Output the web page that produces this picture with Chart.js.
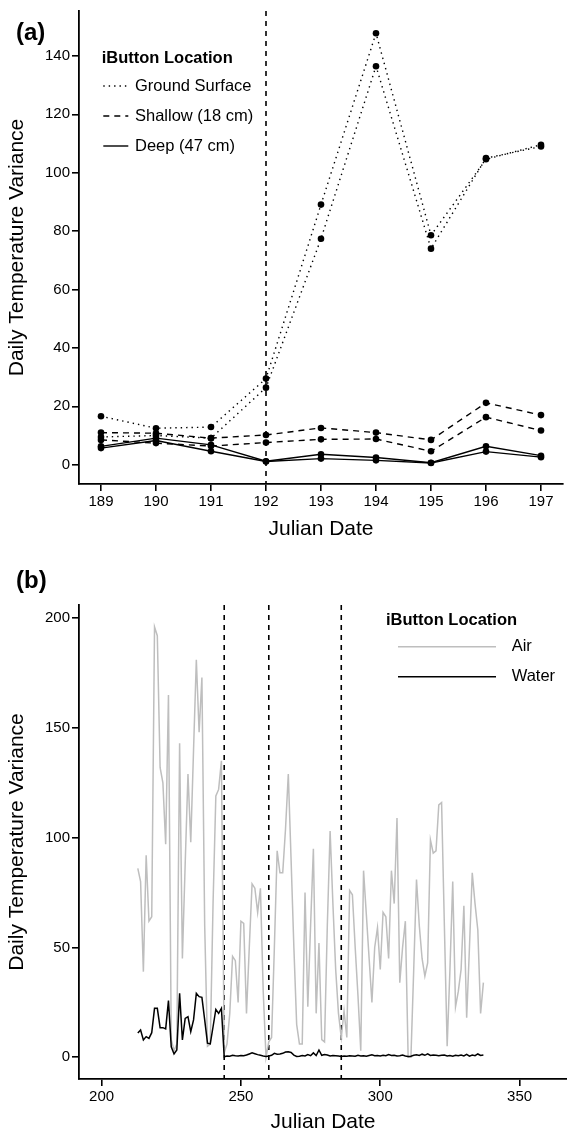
<!DOCTYPE html>
<html>
<head>
<meta charset="utf-8">
<script src="https://cdn.jsdelivr.net/npm/chart.js@4.4.0/dist/chart.umd.min.js"></script>
<style>
html, body { margin: 0; padding: 0; background: #fff; overflow: hidden; }
#wrapA { position: absolute; left: 0; top: 0; width: 567px; height: 560px; }
#wrapB { position: absolute; left: 0; top: 560px; width: 567px; height: 580px; }
</style>
</head>
<body>
<div id="wrapA"><canvas id="chartA" width="567" height="560"></canvas></div>
<div id="wrapB"><canvas id="chartB" width="567" height="580"></canvas></div>
<script>
// panel (a) - two iButtons per location
var daysA = [189, 190, 191, 192, 193, 194, 195, 196, 197];
var groundA = [16.6, 12.5, 12.9, 29.5, 89.1, 147.8, 78.6, 104.6, 109.6];
var groundB = [9.5, 10.0, 9.1, 26.4, 77.4, 136.5, 74.0, 105.0, 109.0];
var shallowA = [11.0, 10.8, 9.1, 10.2, 12.6, 11.0, 8.5, 21.2, 17.0];
var shallowB = [8.5, 7.4, 6.4, 7.6, 8.7, 8.8, 4.6, 16.3, 11.7];
var deepA = [6.3, 9.1, 6.8, 1.2, 3.6, 2.5, 0.7, 6.3, 3.1];
var deepB = [5.7, 8.3, 4.6, 1.1, 2.1, 1.5, 0.6, 4.5, 2.6];
var xTicksA = [189, 190, 191, 192, 193, 194, 195, 196, 197];
var yTicksA = [0, 20, 40, 60, 80, 100, 120, 140];
var vlinesA = [192];

// panel (b) - daily series from day 213
var firstDayB = 213;
var airB = [
  86, 80, 39, 92, 62, 64, 196, 192, 132, 125,
  97, 165, 8, 3, 6, 143, 45, 88, 129, 98,
  140, 181, 148, 173, 60, 5, 6, 70, 119, 122,
  135, 2, 6, 20, 46, 44, 25, 62, 61, 20,
  50, 79, 77, 66, 77, 30, 0, 7, 9, 50,
  94, 84, 84, 104, 129, 90, 50, 15, 6, 6,
  75, 23, 60, 95, 20, 52, 8, 7, 60, 103,
  70, 40, 20, 9, 21, 9, 76, 74, 50, 28,
  3, 85, 65, 45, 25, 50, 59, 40, 66, 64,
  45, 85, 70, 109, 34, 50, 62, 0, 0, 40,
  81, 60, 45, 37, 43, 99, 93, 94, 115, 116,
  60, 5, 40, 80, 23, 30, 40, 69, 18, 50,
  84, 70, 58, 20, 34
];
var waterB = [
  11, 12.4, 7.9, 9.4, 8.6, 11.2, 22.3, 22.3, 13.5, 13.5,
  12.9, 25.8, 4.8, 1.5, 3.3, 29.1, 7.9, 17.7, 18.5, 11.7,
  17, 29.1, 27.6, 27.3, 17, 6.4, 6.1, 13.9, 21.8, 20,
  22.3, 0.2, 0.6, 0.5, 0.9, 0.7, 0.6, 0.8, 0.7, 1.0,
  1.5, 2.0, 1.6, 1.2, 0.9, 0.6, 0.4, 0.6, 0.9, 1.8,
  1.4, 1.5, 1.8, 2.4, 2.5, 2.2, 1.0, 0.4, 0.5, 0.8,
  0.6, 1.2, 0.7, 2.0, 0.8, 3.3, 0.9, 1.2, 1.0, 0.6,
  0.8, 0.7, 0.6, 0.4, 0.6, 0.5, 0.7, 0.6, 0.5, 0.9,
  0.6, 0.7, 0.5, 0.8, 1.1, 0.7, 0.8, 0.6, 0.9, 0.7,
  1.2, 0.8, 0.9, 0.6, 0.7, 1.0, 0.6, 0.4, 0.5, 0.9,
  1.1, 0.8, 1.4, 0.9, 1.6, 0.8, 1.0, 0.9, 0.7, 0.9,
  1.0, 0.6, 0.8, 0.5, 0.9, 0.7, 1.0, 0.6, 1.3, 0.5,
  1.0, 0.7, 1.5, 0.8, 1.0
];
var daysB = airB.map(function (v, i) { return firstDayB + i; });
var xTicksB = [200, 250, 300, 350];
var yTicksB = [0, 50, 100, 150, 200];
var vlinesB = [244, 260, 286];

var FONT = "'Liberation Sans', Arial, sans-serif";
var DOTTED = [1.4, 4];
var DASHED = [6, 5];
var VDASH = [5, 5];

function pts(xs, ys) {
  return ys.map(function (y, i) { return { x: xs[i], y: y }; });
}

function series(data, dash, color, radius) {
  return {
    data: data,
    borderColor: color,
    backgroundColor: color,
    borderWidth: 1.4,
    borderDash: dash,
    pointRadius: radius,
    pointBackgroundColor: color,
    pointBorderWidth: 0,
    tension: 0
  };
}

function axis(min, max, ticks, fitSize, title, titlePad, horizontal) {
  return {
    type: 'linear',
    min: min,
    max: max,
    afterBuildTicks: function (s) {
      s.ticks = ticks.map(function (v) { return { value: v }; });
    },
    afterFit: function (s) {
      if (horizontal) s.height = fitSize; else s.width = fitSize;
    },
    grid: { drawOnChartArea: false, drawTicks: true, tickLength: 7, color: '#000', lineWidth: 1.6 },
    border: { display: true, color: '#000', width: 1.8 },
    ticks: { color: '#000', font: { family: FONT, size: 15 }, padding: 2, maxRotation: 0, autoSkip: false },
    title: { display: true, text: title, color: '#000', font: { family: FONT, size: 21 }, padding: titlePad }
  };
}

// panel label, dashed reference lines and legend
function decor(label, labelY, vlines, legend) {
  return {
    id: 'decor',
    beforeDatasetsDraw: function (chart) {
      var ctx = chart.ctx, a = chart.chartArea, x = chart.scales.x;
      ctx.save();
      ctx.strokeStyle = '#000';
      ctx.lineWidth = 1.6;
      ctx.setLineDash(VDASH);
      vlines.forEach(function (v) {
        var px = x.getPixelForValue(v);
        ctx.beginPath();
        ctx.moveTo(px, a.top);
        ctx.lineTo(px, a.bottom);
        ctx.stroke();
      });
      ctx.restore();
    },
    afterDraw: function (chart) {
      var ctx = chart.ctx;
      ctx.save();
      ctx.fillStyle = '#000';
      ctx.textBaseline = 'middle';
      ctx.textAlign = 'left';
      ctx.font = 'bold 24px ' + FONT;
      ctx.fillText(label, 16, labelY);
      ctx.font = 'bold 16.5px ' + FONT;
      ctx.fillText('iButton Location', legend.titleX, legend.titleY);
      ctx.font = '16.5px ' + FONT;
      legend.items.forEach(function (it, i) {
        var y = legend.firstY + i * 30;
        ctx.strokeStyle = it.color;
        ctx.lineWidth = it.width;
        ctx.setLineDash(it.dash);
        ctx.beginPath();
        ctx.moveTo(legend.lineX0, y);
        ctx.lineTo(legend.lineX1, y);
        ctx.stroke();
        ctx.fillText(it.text, legend.textX, y);
      });
      ctx.restore();
    }
  };
}

new Chart(document.getElementById('chartA'), {
  type: 'line',
  data: {
    datasets: [
      series(pts(daysA, groundA), DOTTED, '#000', 3.3),
      series(pts(daysA, groundB), DOTTED, '#000', 3.3),
      series(pts(daysA, shallowA), DASHED, '#000', 3.3),
      series(pts(daysA, shallowB), DASHED, '#000', 3.3),
      series(pts(daysA, deepA), [], '#000', 3.3),
      series(pts(daysA, deepB), [], '#000', 3.3)
    ]
  },
  options: {
    responsive: false,
    animation: false,
    layout: { padding: { top: 10, right: 0, bottom: 0, left: 0 } },
    plugins: { legend: { display: false }, tooltip: { enabled: false } },
    scales: {
      x: axis(188.6, 197.4, xTicksA, 76, 'Julian Date', { top: 0, bottom: 18.4 }, true),
      y: axis(-6.6, 155.4, yTicksA, 79, 'Daily Temperature Variance', { top: 5, bottom: 0 }, false)
    }
  },
  plugins: [decor('(a)', 33, vlinesA, {
    titleX: 101.7, titleY: 58.3, firstY: 86, lineX0: 103.3, lineX1: 128.3, textX: 135,
    items: [
      { text: 'Ground Surface', dash: DOTTED, color: '#000', width: 1.4 },
      { text: 'Shallow (18 cm)', dash: DASHED, color: '#000', width: 1.4 },
      { text: 'Deep (47 cm)', dash: [], color: '#000', width: 1.4 }
    ]
  })]
});

var airSet = series(pts(daysB, airB), [], '#bebebe', 0);
airSet.order = 1;
airSet.borderWidth = 1.5;
var waterSet = series(pts(daysB, waterB), [], '#000', 0);
waterSet.order = 0;
waterSet.borderWidth = 1.5;

new Chart(document.getElementById('chartB'), {
  type: 'line',
  data: { datasets: [airSet, waterSet] },
  options: {
    responsive: false,
    animation: false,
    layout: { padding: { top: 45, right: 0, bottom: 0, left: 0 } },
    plugins: { legend: { display: false }, tooltip: { enabled: false } },
    scales: {
      x: axis(191.9, 367, xTicksB, 61, 'Julian Date', { top: 0, bottom: 4.7 }, true),
      y: axis(-9.9, 206, yTicksB, 79, 'Daily Temperature Variance', { top: 5, bottom: 0 }, false)
    }
  },
  plugins: [decor('(b)', 21, vlinesB, {
    titleX: 386, titleY: 60, firstY: 86.7, lineX0: 398, lineX1: 496, textX: 511.7,
    items: [
      { text: 'Air', dash: [], color: '#bebebe', width: 1.5 },
      { text: 'Water', dash: [], color: '#000', width: 1.5 }
    ]
  })]
});
</script>
</body>
</html>
